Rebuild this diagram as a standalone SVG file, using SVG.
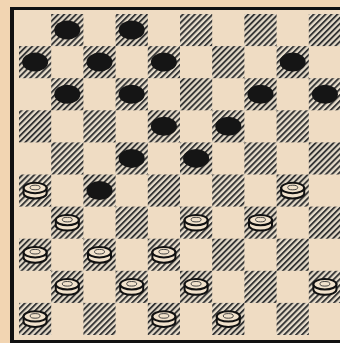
<svg xmlns="http://www.w3.org/2000/svg" width="340" height="343" viewBox="0 0 340 343">
<defs>
<style>
.sq{fill:url(#hatch)}
.bp{fill:#151515}
.wp{fill:#f1e2cc;stroke:#111;stroke-width:2}
.wi{fill:none;stroke:#333;stroke-width:0.9}
</style>
<pattern id="hatch" patternUnits="userSpaceOnUse" width="4.2" height="4.2" patternTransform="rotate(45)">
<rect width="4.2" height="4.2" fill="#e6dccb"/>
<rect x="0" y="0" width="1.9" height="4.2" fill="#353535"/>
</pattern>
<g id="black">
<ellipse class="bp" cx="0" cy="0" rx="13" ry="9.5"/>
</g>
<g id="white">
<path class="wp" d="M-11.5,-2.5 L-11.5,3 A11.5,5 0 0 0 11.5,3 L11.5,-2.5 Z"/>
<ellipse class="wp" cx="0" cy="-2.5" rx="11.5" ry="5.2"/>
<ellipse class="wi" cx="0" cy="-3" rx="5" ry="2.3"/>
</g>
</defs>
<rect width="340" height="343" fill="#f2d5b2"/>
<rect x="14" y="10" width="326" height="330" fill="#efdcc3"/>
<g id="border" fill="#111">
<rect x="10" y="7" width="330" height="3"/>
<rect x="10" y="7" width="4" height="336"/>
<rect x="10" y="340" width="330" height="3"/>
</g>
<g id="squares">
<rect class="sq" x="51.2" y="14" width="32.2" height="32.1"/><rect class="sq" x="115.6" y="14" width="32.2" height="32.1"/><rect class="sq" x="180" y="14" width="32.2" height="32.1"/><rect class="sq" x="244.4" y="14" width="32.2" height="32.1"/><rect class="sq" x="308.8" y="14" width="32.2" height="32.1"/>
<rect class="sq" x="19" y="46.1" width="32.2" height="32.1"/><rect class="sq" x="83.4" y="46.1" width="32.2" height="32.1"/><rect class="sq" x="147.8" y="46.1" width="32.2" height="32.1"/><rect class="sq" x="212.2" y="46.1" width="32.2" height="32.1"/><rect class="sq" x="276.6" y="46.1" width="32.2" height="32.1"/>
<rect class="sq" x="51.2" y="78.2" width="32.2" height="32.1"/><rect class="sq" x="115.6" y="78.2" width="32.2" height="32.1"/><rect class="sq" x="180" y="78.2" width="32.2" height="32.1"/><rect class="sq" x="244.4" y="78.2" width="32.2" height="32.1"/><rect class="sq" x="308.8" y="78.2" width="32.2" height="32.1"/>
<rect class="sq" x="19" y="110.3" width="32.2" height="32.1"/><rect class="sq" x="83.4" y="110.3" width="32.2" height="32.1"/><rect class="sq" x="147.8" y="110.3" width="32.2" height="32.1"/><rect class="sq" x="212.2" y="110.3" width="32.2" height="32.1"/><rect class="sq" x="276.6" y="110.3" width="32.2" height="32.1"/>
<rect class="sq" x="51.2" y="142.4" width="32.2" height="32.1"/><rect class="sq" x="115.6" y="142.4" width="32.2" height="32.1"/><rect class="sq" x="180" y="142.4" width="32.2" height="32.1"/><rect class="sq" x="244.4" y="142.4" width="32.2" height="32.1"/><rect class="sq" x="308.8" y="142.4" width="32.2" height="32.1"/>
<rect class="sq" x="19" y="174.5" width="32.2" height="32.1"/><rect class="sq" x="83.4" y="174.5" width="32.2" height="32.1"/><rect class="sq" x="147.8" y="174.5" width="32.2" height="32.1"/><rect class="sq" x="212.2" y="174.5" width="32.2" height="32.1"/><rect class="sq" x="276.6" y="174.5" width="32.2" height="32.1"/>
<rect class="sq" x="51.2" y="206.6" width="32.2" height="32.1"/><rect class="sq" x="115.6" y="206.6" width="32.2" height="32.1"/><rect class="sq" x="180" y="206.6" width="32.2" height="32.1"/><rect class="sq" x="244.4" y="206.6" width="32.2" height="32.1"/><rect class="sq" x="308.8" y="206.6" width="32.2" height="32.1"/>
<rect class="sq" x="19" y="238.7" width="32.2" height="32.1"/><rect class="sq" x="83.4" y="238.7" width="32.2" height="32.1"/><rect class="sq" x="147.8" y="238.7" width="32.2" height="32.1"/><rect class="sq" x="212.2" y="238.7" width="32.2" height="32.1"/><rect class="sq" x="276.6" y="238.7" width="32.2" height="32.1"/>
<rect class="sq" x="51.2" y="270.8" width="32.2" height="32.1"/><rect class="sq" x="115.6" y="270.8" width="32.2" height="32.1"/><rect class="sq" x="180" y="270.8" width="32.2" height="32.1"/><rect class="sq" x="244.4" y="270.8" width="32.2" height="32.1"/><rect class="sq" x="308.8" y="270.8" width="32.2" height="32.1"/>
<rect class="sq" x="19" y="302.9" width="32.2" height="32.1"/><rect class="sq" x="83.4" y="302.9" width="32.2" height="32.1"/><rect class="sq" x="147.8" y="302.9" width="32.2" height="32.1"/><rect class="sq" x="212.2" y="302.9" width="32.2" height="32.1"/><rect class="sq" x="276.6" y="302.9" width="32.2" height="32.1"/>
</g>
<g id="black-pieces">
<use id="b-r0c1" href="#black" x="67.3" y="30"/>
<use id="b-r0c3" href="#black" x="131.7" y="30"/>
<use id="b-r1c0" href="#black" x="35.1" y="62.1"/>
<use id="b-r1c2" href="#black" x="99.5" y="62.1"/>
<use id="b-r1c4" href="#black" x="163.9" y="62.1"/>
<use id="b-r1c8" href="#black" x="292.7" y="62.1"/>
<use id="b-r2c1" href="#black" x="67.3" y="94.2"/>
<use id="b-r2c3" href="#black" x="131.7" y="94.2"/>
<use id="b-r2c7" href="#black" x="260.5" y="94.2"/>
<use id="b-r2c9" href="#black" x="324.9" y="94.2"/>
<use id="b-r3c4" href="#black" x="163.9" y="126.3"/>
<use id="b-r3c6" href="#black" x="228.3" y="126.3"/>
<use id="b-r4c3" href="#black" x="131.7" y="158.4"/>
<use id="b-r4c5" href="#black" x="196.1" y="158.4"/>
<use id="b-r5c2" href="#black" x="99.5" y="190.5"/>
</g>
<g id="white-pieces">
<use id="w-r5c0" href="#white" x="35.1" y="190.5"/>
<use id="w-r5c8" href="#white" x="292.7" y="190.5"/>
<use id="w-r6c1" href="#white" x="67.3" y="222.6"/>
<use id="w-r6c5" href="#white" x="196.1" y="222.6"/>
<use id="w-r6c7" href="#white" x="260.5" y="222.6"/>
<use id="w-r7c0" href="#white" x="35.1" y="254.7"/>
<use id="w-r7c2" href="#white" x="99.5" y="254.7"/>
<use id="w-r7c4" href="#white" x="163.9" y="254.7"/>
<use id="w-r8c1" href="#white" x="67.3" y="286.8"/>
<use id="w-r8c3" href="#white" x="131.7" y="286.8"/>
<use id="w-r8c5" href="#white" x="196.1" y="286.8"/>
<use id="w-r8c9" href="#white" x="324.9" y="286.8"/>
<use id="w-r9c0" href="#white" x="35.1" y="318.9"/>
<use id="w-r9c4" href="#white" x="163.9" y="318.9"/>
<use id="w-r9c6" href="#white" x="228.3" y="318.9"/>
</g>
</svg>
